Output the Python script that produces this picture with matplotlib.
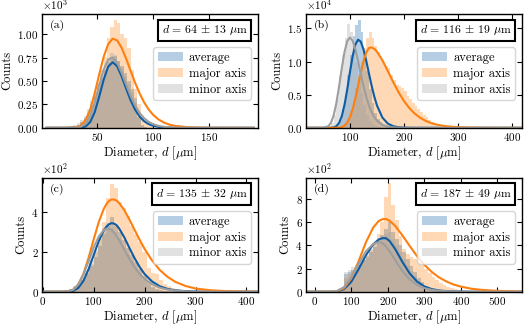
import numpy as np
import matplotlib.pyplot as plt
from matplotlib.ticker import MultipleLocator

plt.rcParams.update({
    'font.family': 'serif',
    'font.serif': ['cmr10'],
    'mathtext.fontset': 'cm',
    'axes.formatter.use_mathtext': True,
    'font.size': 8,
})

# colours of the three series
c_avg, c_major, c_minor = '#0C5DA5', '#FF7F0E', '#9E9E9E'

# ---------------- panel (a) ----------------
edges_a = np.arange(17, 102, 3)
avg_hist_a = [4, 6, 10, 15, 22, 35, 60, 100, 160, 240, 330, 430, 530, 620, 700, 760, 770, 720,
              660, 590, 500, 420, 320, 120, 25, 8, 3, 1]
major_hist_a = [3, 5, 8, 12, 18, 28, 50, 90, 150, 240, 350, 480, 620, 760, 960, 1080, 1160, 1120,
                1000, 960, 860, 620, 420, 260, 120, 60, 30, 15]
minor_hist_a = [6, 10, 15, 22, 32, 50, 85, 130, 200, 290, 380, 480, 580, 670, 740, 800, 780, 720,
                640, 560, 470, 380, 270, 100, 20, 6, 2, 1]
x_fit_a = [5, 20, 30, 35, 40, 44, 48, 52, 56, 60, 64, 68, 72, 76, 80, 84, 88, 92, 96, 100, 105,
           110, 115, 120, 130, 140, 150, 190]
avg_fit_a = [0, 0, 0, 1, 15, 62, 168, 334, 516, 654, 703, 660, 553, 422, 297, 196, 122, 72, 41, 22,
             10, 4, 2, 1, 0, 0, 0, 0]
major_fit_a = [0, 0, 2, 18, 84, 198, 370, 572, 761, 896, 955, 937, 859, 743, 613, 485, 371, 275,
               199, 141, 89, 55, 33, 20, 7, 2, 1, 0]
minor_fit_a = [0, 0, 0, 6, 43, 127, 272, 455, 625, 732, 754, 698, 591, 465, 343, 241, 161, 104, 65,
               39, 20, 10, 5, 2, 1, 0, 0, 0]

# ---------------- panel (b) ----------------
edges_b = np.arange(50, 295, 5)
avg_hist_b = [0, 0, 0, 20, 100, 400, 1200, 2800, 5000, 8000, 11000, 13800, 15500, 16300, 14500,
              11500, 8500, 5800, 3700, 2300, 1400, 800, 450, 250, 130, 70, 30, 15,
              0, 0, 0, 0, 0, 0, 0, 0, 0, 0, 0, 0, 0, 0, 0, 0, 0, 0, 0, 0]
major_hist_b = [0, 0, 0, 0, 0, 10, 50, 200, 600, 1400, 2600, 4200, 6000, 8000, 10000, 12000, 13500,
                14500, 13500, 12300, 11500, 10800, 10000, 9300, 9000, 8000, 7200, 6500, 6300, 6000,
                5500, 4800, 4300, 3800, 3300, 2800, 2400, 2000, 1600, 1200, 800, 500, 300, 180,
                100, 60, 30, 15]
minor_hist_b = [0, 50, 200, 700, 2000, 4500, 8000, 11000, 13500, 15600, 14500, 12500, 10000, 7500,
                5200, 3400, 2000, 1100, 600, 300, 150, 80, 40, 20, 10,
                0, 0, 0, 0, 0, 0, 0, 0, 0, 0, 0, 0, 0, 0, 0, 0, 0, 0, 0, 0, 0, 0, 0]
x_fit_b = [20, 50, 60, 65, 70, 75, 80, 85, 90, 95, 100, 105, 110, 115, 120, 125, 130, 135, 140,
           145, 150, 160, 170, 180, 190, 200, 210, 220, 230, 240, 250, 260, 270, 280, 300, 320,
           350, 418]
avg_fit_b = [0, 0, 2, 12, 66, 254, 752, 1782, 3490, 5808, 8422, 10834, 12561, 13299, 13006, 11859,
             10167, 8252, 6382, 4726, 3366, 1548, 637, 240, 84, 28, 9, 3, 1, 0, 0, 0, 0, 0, 0, 0,
             0, 0]
major_fit_b = [0, 0, 0, 0, 2, 9, 37, 124, 342, 798, 1602, 2825, 4448, 6348, 8295, 10037, 11332,
               12036, 12130, 11914, 11492, 10200, 8578, 6907, 5361, 4037, 2966, 2132, 1507, 1048,
               720, 490, 330, 221, 98, 42, 12, 0]
minor_fit_b = [0, 8, 243, 777, 1914, 3800, 6322, 9068, 11483, 13088, 13630, 13140, 11849, 10083,
               8160, 6322, 4712, 3395, 2376, 1618, 1078, 451, 177, 66, 24, 8, 3, 1, 0, 0, 0, 0,
               0, 0, 0, 0, 0, 0]

# ---------------- panel (c) ----------------
edges_c = np.arange(20, 352, 8)
avg_hist_c = [0, 1, 3, 6, 12, 22, 38, 60, 90, 130, 175, 230, 290, 330, 375, 330, 300, 260, 220,
              185, 150, 115, 80, 50, 25, 12, 6, 3, 2, 1, 0, 0, 0, 0, 0, 0, 0, 0, 0, 0, 0]
major_hist_c = [0, 0, 1, 3, 8, 18, 35, 60, 95, 140, 200, 270, 350, 470, 540, 520, 450, 420, 380,
                330, 290, 250, 200, 120, 95, 90, 60, 40, 28, 20, 15, 10, 8, 6, 4, 3, 2, 2, 1, 1, 0]
minor_hist_c = [0, 2, 4, 8, 15, 28, 48, 75, 110, 160, 210, 265, 320, 345, 320, 300, 265, 225, 190,
                155, 120, 90, 60, 35, 18, 8, 4, 2, 1, 0, 0, 0, 0, 0, 0, 0, 0, 0, 0, 0, 0]
x_fit_c = [0, 30, 40, 50, 60, 70, 80, 90, 100, 110, 120, 125, 130, 135, 140, 145, 150, 160, 170,
           180, 190, 200, 215, 230, 245, 260, 280, 300, 330, 360, 420]
avg_fit_c = [0, 0, 0, 1, 4, 19, 54, 112, 183, 254, 308, 327, 339, 345, 343, 335, 319, 275, 222,
             171, 126, 89, 51, 27, 14, 7, 3, 1, 0, 0, 0]
major_fit_c = [0, 0, 0, 2, 10, 36, 89, 169, 261, 349, 417, 440, 456, 464, 464, 459, 447, 412, 365,
               314, 263, 216, 156, 109, 75, 50, 29, 16, 7, 3, 0]
minor_fit_c = [0, 0, 0, 2, 10, 36, 86, 152, 221, 277, 310, 317, 317, 311, 298, 281, 260, 214, 167,
               126, 91, 65, 37, 20, 11, 6, 2, 1, 0, 0, 0]

# ---------------- panel (d) ----------------
edges_d = np.arange(30, 460, 10)
avg_hist_d = [0, 1, 3, 6, 15, 150, 170, 190, 210, 240, 270, 300, 340, 390, 440, 490, 540, 600, 520,
              460, 400, 340, 280, 220, 170, 120, 80, 50, 30, 15, 8, 4, 2, 1, 0, 0, 0, 0, 0, 0, 0, 0]
major_hist_d = [0, 0, 2, 5, 12, 120, 150, 175, 200, 235, 270, 310, 360, 420, 500, 600, 820, 940,
                750, 620, 480, 370, 330, 300, 280, 260, 230, 200, 165, 130, 100, 75, 55, 40, 28,
                20, 14, 10, 7, 5, 3, 2]
minor_hist_d = [0, 1, 4, 8, 20, 170, 190, 210, 235, 265, 300, 330, 370, 410, 450, 480, 500, 520,
                460, 400, 340, 280, 230, 180, 135, 95, 65, 40, 22, 12, 6, 3, 1, 0, 0, 0, 0, 0, 0,
                0, 0, 0]
x_fit_d = [-20, 20, 40, 60, 80, 100, 120, 140, 160, 175, 185, 195, 205, 220, 240, 260, 280, 300,
           320, 340, 360, 380, 400, 430, 460, 500, 565]
avg_fit_d = [0, 0, 0, 2, 21, 84, 193, 314, 409, 451, 463, 463, 439, 371, 258, 158, 88, 46, 23, 11,
             5, 2, 1, 0, 0, 0, 0]
major_fit_d = [0, 0, 0, 3, 29, 114, 261, 425, 554, 611, 627, 629, 615, 571, 488, 396, 308, 233,
               172, 124, 89, 62, 44, 25, 15, 7, 2]
minor_fit_d = [0, 0, 0, 5, 38, 122, 240, 348, 413, 430, 422, 393, 351, 275, 179, 106, 59, 31, 16,
               8, 4, 2, 1, 0, 0, 0, 0]

panel_tags = ['(a)', '(b)', '(c)', '(d)']
mean_d = [64, 116, 135, 187]
std_d = [13, 19, 32, 49]

panels = [
    dict(edges=edges_a, hists=(avg_hist_a, major_hist_a, minor_hist_a), xfit=x_fit_a,
         fits=(avg_fit_a, major_fit_a, minor_fit_a), xlim=(1, 194), ylim=(0, 1220),
         xstep=50, ystep=250, order=3),
    dict(edges=edges_b, hists=(avg_hist_b, major_hist_b, minor_hist_b), xfit=x_fit_b,
         fits=(avg_fit_b, major_fit_b, minor_fit_b), xlim=(19, 419), ylim=(0, 17180),
         xstep=100, ystep=5000, order=4),
    dict(edges=edges_c, hists=(avg_hist_c, major_hist_c, minor_hist_c), xfit=x_fit_c,
         fits=(avg_fit_c, major_fit_c, minor_fit_c), xlim=(-1, 423), ylim=(0, 573),
         xstep=100, ystep=200, order=2),
    dict(edges=edges_d, hists=(avg_hist_d, major_hist_d, minor_hist_d), xfit=x_fit_d,
         fits=(avg_fit_d, major_fit_d, minor_fit_d), xlim=(-23, 568), ylim=(0, 985),
         xstep=100, ystep=200, order=2),
]

labels = ['average', 'major axis', 'minor axis']
colors = [c_avg, c_major, c_minor]

fig, axes = plt.subplots(2, 2, figsize=(5.26, 3.25), dpi=100)
plt.subplots_adjust(left=0.080, right=0.993, top=0.957, bottom=0.1025, wspace=0.222, hspace=0.44)

for i, (ax, p) in enumerate(zip(axes.flat, panels)):
    for h, col, lab in zip(p['hists'], colors, labels):
        ax.stairs(h, p['edges'], fill=True, color=col, alpha=0.3, linewidth=0, label=lab)
    for f, col in zip(p['fits'], colors):
        ax.plot(p['xfit'], f, color=col, lw=1.5)

    ax.set_xlim(*p['xlim'])
    ax.set_ylim(*p['ylim'])
    ax.xaxis.set_major_locator(MultipleLocator(p['xstep']))
    ax.yaxis.set_major_locator(MultipleLocator(p['ystep']))
    ax.ticklabel_format(axis='y', style='sci', scilimits=(p['order'], p['order']))
    ax.tick_params(direction='in', top=True, right=True, length=3.5, width=0.8, pad=2.5)
    for s in ax.spines.values():
        s.set_linewidth(1.0)

    ax.set_xlabel(r'Diameter, $d$ [$\mu$m]', fontsize=9, labelpad=1)
    ax.set_ylabel('Counts', fontsize=9, labelpad=3)
    ax.text(0.035, 0.9, panel_tags[i], transform=ax.transAxes, va='center', ha='left',
            fontsize=8.5)
    ax.text(0.95, 0.92, r'$d\,=\,%d\,\pm\,%d$ $\mu$m' % (mean_d[i], std_d[i]),
            transform=ax.transAxes, ha='right', va='top', fontsize=8.5,
            bbox=dict(boxstyle='square,pad=0.3', fc='white', ec='black', lw=1.5))
    ax.legend(loc='upper right', bbox_to_anchor=(0.966, 0.707), borderaxespad=0,
              fontsize=9, handlelength=2.0, handletextpad=0.5, labelspacing=0.3,
              borderpad=0.35)

fig.savefig('out.png', dpi=100)
